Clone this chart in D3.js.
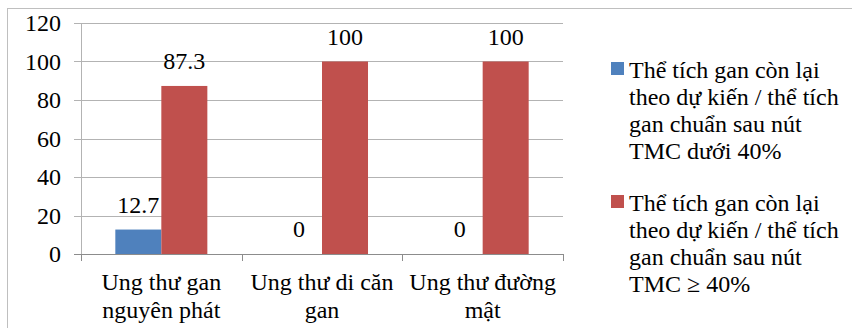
<!DOCTYPE html>
<html>
<head>
<meta charset="utf-8">
<script src="https://cdn.jsdelivr.net/npm/d3@7"></script>
<style>
  html, body { margin: 0; padding: 0; background: #fff; }
</style>
</head>
<body>
<svg id="chart" width="852" height="328"></svg>
<script>
// Categories (label lines split with \n)
const categories = ["Ung thư gan\nnguyên phát", "Ung thư di căn\ngan", "Ung thư đường\nmật"];
// Series names (legend lines split with \n)
const seriesNames = [
  "Thể tích gan còn lại\ntheo dự kiến / thể tích\ngan chuẩn sau nút\nTMC dưới 40%",
  "Thể tích gan còn lại\ntheo dự kiến / thể tích\ngan chuẩn sau nút\nTMC ≥ 40%"
];
const seriesColors = ["#4F81BD", "#C0504D"];
// Percent values per category
const below40 = [12.7, 0, 0];
const atLeast40 = [87.3, 100, 100];
const yTicks = [0, 20, 40, 60, 80, 100, 120];

const svg = d3.select("#chart");
const fontSize = 24;
const serif = "'Liberation Serif'";

// outer frame (runs off the right and bottom edges)
svg.append("rect")
  .attr("x", 7.5).attr("y", 8.5)
  .attr("width", 900).attr("height", 400)
  .attr("fill", "none").attr("stroke", "#bfbfbf").attr("stroke-width", 1);

const plot = { left: 81, right: 563, top: 23, bottom: 254 };

const y = d3.scaleLinear().domain([0, 120]).range([plot.bottom, plot.top]);
const x0 = d3.scaleBand().domain(d3.range(categories.length)).range([plot.left, plot.right]).padding(0);
const x1 = d3.scaleBand().domain([0, 1]).range([0, x0.bandwidth()]).paddingInner(0).paddingOuter(0.746);

// gridlines with left tick stubs
svg.append("g").selectAll("line").data(yTicks).join("line")
  .attr("x1", plot.left - 7).attr("x2", plot.right)
  .attr("y1", d => Math.round(y(d)) + 0.5).attr("y2", d => Math.round(y(d)) + 0.5)
  .attr("stroke", d => d === 0 ? "#8c8c8c" : "#b3b3b3").attr("stroke-width", 1);

// y-axis line
svg.append("line")
  .attr("x1", plot.left + 0.5).attr("x2", plot.left + 0.5)
  .attr("y1", plot.top).attr("y2", plot.bottom)
  .attr("stroke", "#b3b3b3");

// y tick labels
svg.append("g").selectAll("text").data(yTicks).join("text")
  .attr("x", 61).attr("y", d => y(d))
  .attr("dy", "0.34em")
  .attr("text-anchor", "end")
  .attr("font-size", fontSize)
  .style("font-family", serif)
  .text(d => d);

// category tick marks
const catEdges = d3.range(categories.length + 1).map(i => plot.left + i * x0.bandwidth());
svg.append("g").selectAll("line").data(catEdges).join("line")
  .attr("x1", d => Math.round(d) + 0.5).attr("x2", d => Math.round(d) + 0.5)
  .attr("y1", plot.bottom).attr("y2", plot.bottom + 7)
  .attr("stroke", "#8c8c8c");

// bars and value labels
const series = [below40, atLeast40];
series.forEach((vals, s) => {
  svg.append("g").selectAll("rect").data(vals).join("rect")
    .attr("x", (d, i) => x0(i) + x1(s))
    .attr("width", x1.bandwidth())
    .attr("y", d => y(d))
    .attr("height", d => y(0) - y(d))
    .attr("fill", seriesColors[s]);
  svg.append("g").selectAll("text").data(vals).join("text")
    .attr("x", (d, i) => x0(i) + x1(s) + x1.bandwidth() / 2)
    .attr("y", d => y(d) - 17)
    .attr("text-anchor", "middle")
    .attr("font-size", fontSize)
    .style("font-family", serif)
    .text(d => d);
});

// category labels
categories.forEach((c, i) => {
  const t = svg.append("text")
    .attr("text-anchor", "middle")
    .attr("font-size", fontSize)
    .style("font-family", serif);
  c.split("\n").forEach((line, j) => {
    t.append("tspan")
      .attr("x", x0(i) + x0.bandwidth() / 2)
      .attr("y", 290 + j * 28)
      .text(line);
  });
});

// legend
const legendTop = [78, 211];
seriesNames.forEach((name, s) => {
  svg.append("rect")
    .attr("x", 611).attr("y", legendTop[s] - 16)
    .attr("width", 13).attr("height", 13)
    .attr("fill", seriesColors[s]);
  const t = svg.append("text").attr("font-size", fontSize).style("font-family", serif);
  name.split("\n").forEach((line, j) => {
    t.append("tspan").attr("x", 629).attr("y", legendTop[s] + j * 27).text(line);
  });
});
</script>
</body>
</html>
